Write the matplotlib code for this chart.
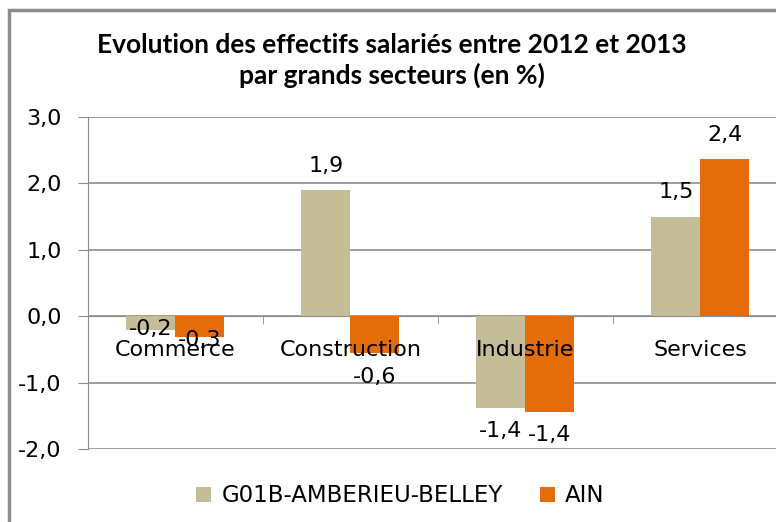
import matplotlib.pyplot as plt
import matplotlib.patches as patches
import matplotlib.transforms as mtransforms
import numpy as np

plt.rcParams['font.family'] = ['DejaVu Sans']

categories = ["Commerce", "Construction", "Industrie", "Services"]
series_names = ["G01B-AMBERIEU-BELLEY", "AIN"]
g01b = [-0.21, 1.9, -1.38, 1.5]
ain = [-0.32, -0.56, -1.44, 2.36]
g01b_labels = ["-0,2", "1,9", "-1,4", "1,5"]
ain_labels = ["-0,3", "-0,6", "-1,4", "2,4"]
y_ticks = [-2, -1, 0, 1, 2, 3]
y_tick_labels = ["-2,0", "-1,0", "0,0", "1,0", "2,0", "3,0"]

colors = ["#C4BD97", "#E46C0A"]
grey = "#8c8c8c"

fig = plt.figure(figsize=(7.76, 5.22), dpi=100)
ax = fig.add_axes([0.1134, 0.1398, 0.902, 0.6361])

x = np.arange(len(categories))
w = 0.28
bars_1 = ax.bar(x - w / 2, g01b, w, color=colors[0], label=series_names[0], zorder=3)
bars_2 = ax.bar(x + w / 2, ain, w, color=colors[1], label=series_names[1], zorder=3)

for k, (bars, vals, labs) in enumerate([(bars_1, g01b, g01b_labels), (bars_2, ain, ain_labels)]):
    for i, (b, v, t) in enumerate(zip(bars, vals, labs)):
        if i == 0:
            # Excel squeezed the Commerce labels against the bars
            off = 1 if k == 0 else -1.5
        else:
            off = 17.5 if v > 0 else -17
        ax.annotate(t, (b.get_x() + b.get_width() / 2, v), xytext=(0, off),
                    textcoords="offset points", ha="center", va="center",
                    fontsize=16, zorder=5)

# category names sit just under the zero line, on top of the bars
for xi, name in zip(x, categories):
    tr = mtransforms.offset_copy(ax.transData, fig=fig, x=0, y=-24, units="points")
    ax.text(xi, 0, name, transform=tr, ha="center", va="center", fontsize=16,
            zorder=6, clip_on=False)

ax.set_xlim(-0.5, 3.5)
ax.set_ylim(-2, 3)
ax.set_yticks(y_ticks)
ax.set_yticklabels(y_tick_labels, fontsize=16)
ax.yaxis.grid(True, color=grey, lw=1.2, zorder=0)
ax.tick_params(axis="y", length=7, color=grey, pad=12)

ax.spines["bottom"].set_position(("data", 0))
ax.spines["bottom"].set_color(grey)
ax.spines["left"].set_color(grey)
ax.spines["top"].set_visible(False)
ax.spines["right"].set_visible(False)
ax.set_xticks(x)
ax.set_xticklabels([])
ax.set_xticks(x[:-1] + 0.5, minor=True)
ax.tick_params(axis="x", which="major", length=0)
ax.tick_params(axis="x", which="minor", length=6, color=grey)

fig.text(0.505, 0.914, "Evolution des effectifs salariés entre 2012 et 2013",
         ha="center", va="center", fontsize=19, fontweight="bold", family="Lato")
fig.text(0.505, 0.855, "par grands secteurs (en %)",
         ha="center", va="center", fontsize=19, fontweight="bold", family="Lato")

fig.legend(loc="center", bbox_to_anchor=(0.516, 0.05), ncol=2, frameon=False,
           fontsize=16.5, handlelength=0.65, handleheight=0.65, columnspacing=1.6,
           handletextpad=0.45)

frame = patches.Rectangle((9 / 776, -0.1), 1.2, 1.1 - 10 / 522, transform=fig.transFigure,
                          fill=False, edgecolor=grey, lw=2.5)
fig.patches.append(frame)

fig.savefig("out.png", dpi=100)
